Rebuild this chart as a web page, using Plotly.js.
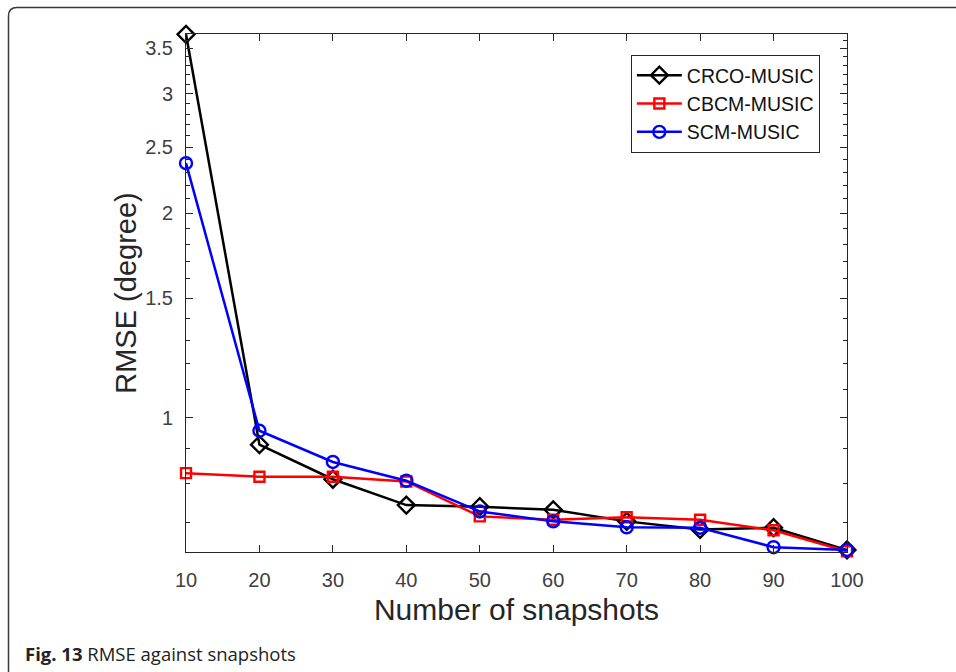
<!DOCTYPE html>
<html>
<head>
<meta charset="utf-8">
<script src="https://cdn.plot.ly/plotly-3.0.1.min.js"></script>
<style>
  html, body { margin: 0; padding: 0; background: #ffffff; }
  #wrap { position: relative; width: 956px; height: 672px; overflow: hidden; background: #fff; }
  #frame { position: absolute; left: 0; top: 0; }
  #chart { position: absolute; left: 0; top: 0; width: 956px; height: 672px; }
  #caption { position: absolute; left: 25px; top: 642px; font-family: "Open Sans", sans-serif;
             font-size: 18.5px; color: #222222; white-space: nowrap; line-height: 24px; }
</style>
</head>
<body>
<div id="wrap">
  <svg id="frame" width="956" height="672">
    <path d="M 8.5 700 L 8.5 16 Q 8.5 7.5 17 7.5 L 1000 7.5" fill="none" stroke="#3a3a3a" stroke-width="1.5"/>
  </svg>
  <div id="chart"></div>
  <div id="caption"><b>Fig. 13</b> RMSE against snapshots</div>
</div>
<script>
const snapshots = [10, 20, 30, 40, 50, 60, 70, 80, 90, 100];
const crcoMusic = [3.67, 0.912, 0.811, 0.743, 0.739, 0.731, 0.703, 0.684, 0.688, 0.638];
const cbcmMusic = [0.828, 0.818, 0.818, 0.805, 0.715, 0.707, 0.713, 0.707, 0.682, 0.635];
const scmMusic  = [2.37, 0.956, 0.860, 0.807, 0.727, 0.703, 0.689, 0.688, 0.644, 0.638];
const seriesNames = ["CRCO-MUSIC", "CBCM-MUSIC", "SCM-MUSIC"];
const yTickVals = [1, 1.5, 2, 2.5, 3, 3.5];
const yTickText = ["1", "1.5", "2", "2.5", "3", "3.5"];
const yMinorVals = [0.7, 0.8, 0.9, 1.1, 1.2, 1.3, 1.4, 1.6, 1.7, 1.8, 1.9, 2.1, 2.2, 2.3, 2.4, 2.6, 2.7, 2.8, 2.9, 3.1, 3.2, 3.3, 3.4, 3.6];

const font = "'Liberation Sans', Arial, sans-serif";
const axisColor = "#262626";

const traces = [
  { x: snapshots, y: crcoMusic, name: seriesNames[0], mode: "lines+markers", cliponaxis: false,
    line: { color: "#000000", width: 2.5 },
    marker: { symbol: "diamond-open", size: 13, color: "#000000", line: { width: 2.4, color: "#000000" } } },
  { x: snapshots, y: cbcmMusic, name: seriesNames[1], mode: "lines+markers", cliponaxis: false,
    line: { color: "#ff0000", width: 2.5 },
    marker: { symbol: "square-open", size: 10, color: "#ff0000", line: { width: 2.4, color: "#ff0000" } } },
  { x: snapshots, y: scmMusic, name: seriesNames[2], mode: "lines+markers", cliponaxis: false,
    line: { color: "#0000ff", width: 2.5 },
    marker: { symbol: "circle-open", size: 12, color: "#0000ff", line: { width: 2.4, color: "#0000ff" } } }
];

const layout = {
  width: 956, height: 672,
  paper_bgcolor: "rgba(0,0,0,0)", plot_bgcolor: "#ffffff",
  margin: { l: 186, r: 109, t: 34, b: 120 },
  font: { family: font, color: "#404040", size: 19 },
  showlegend: true,
  legend: {
    x: 0.673, y: 0.9595, xanchor: "left", yanchor: "top",
    bordercolor: axisColor, borderwidth: 1, bgcolor: "#ffffff",
    font: { family: font, size: 19.5, color: "#111111" },
    itemwidth: 45, tracegroupgap: 0
  },
  xaxis: {
    range: [10, 100], tickvals: snapshots, ticktext: snapshots.map(String),
    showgrid: false, zeroline: false, showline: true, linecolor: axisColor, linewidth: 1,
    mirror: "ticks", ticks: "inside", ticklen: 7, tickcolor: axisColor,
    tickfont: { family: font, size: 20, color: "#404040" }, ticklabelstandoff: 10,
    title: { text: "Number of snapshots", font: { family: font, size: 30, color: "#262626" }, standoff: 8 }
  },
  yaxis: {
    type: "log", range: [Math.log10(0.6336), Math.log10(3.674)],
    tickmode: "array", tickvals: yTickVals, ticktext: yTickText,
    showgrid: false, zeroline: false, showline: true, linecolor: axisColor, linewidth: 1,
    mirror: "ticks", ticks: "inside", ticklen: 7, tickcolor: axisColor,
    minor: { tickmode: "array", tickvals: yMinorVals, ticks: "inside", ticklen: 4, tickcolor: axisColor, showgrid: false },
    tickfont: { family: font, size: 20, color: "#404040" }, ticklabelstandoff: 8,
    title: { text: "RMSE (degree)", font: { family: font, size: 29, color: "#262626" }, standoff: 0 }
  }
};

Plotly.newPlot("chart", traces, layout, { displayModeBar: false, staticPlot: true });
</script>
</body>
</html>
